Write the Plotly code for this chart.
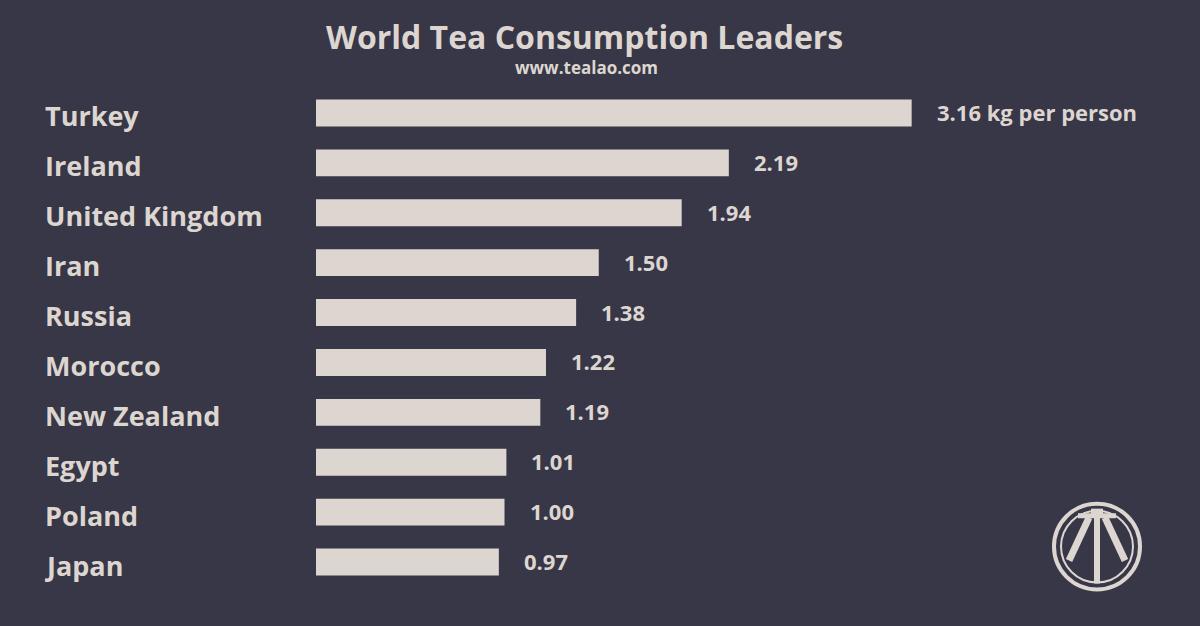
import plotly.graph_objects as go

countries = ["Turkey", "Ireland", "United Kingdom", "Iran", "Russia",
             "Morocco", "New Zealand", "Egypt", "Poland", "Japan"]
values = [3.16, 2.19, 1.94, 1.50, 1.38, 1.22, 1.19, 1.01, 1.00, 0.97]
value_labels = ["3.16 kg per person", "2.19", "1.94", "1.50", "1.38",
                "1.22", "1.19", "1.01", "1.00", "0.97"]
title_text = "World Tea Consumption Leaders"
subtitle_text = "www.tealao.com"

W, H = 1200, 626
BG = "#383747"
FG = "#DDD6D0"
FONT = "Open Sans"
L_PLOT = 316
T, B = 87.5, 38.5
PLOT_H = H - T - B
x_max = (W - L_PLOT) / 188.5

fig = go.Figure(go.Bar(
    x=values, y=countries, orientation="h",
    marker=dict(color=FG, line_width=0), width=0.54, hoverinfo="skip",
))

fig.update_layout(
    width=W, height=H, paper_bgcolor=BG, plot_bgcolor=BG,
    margin=dict(l=0, r=0, t=T, b=B, pad=0), showlegend=False,
    xaxis=dict(domain=[L_PLOT / W, 1], range=[0, x_max], visible=False, fixedrange=True),
    yaxis=dict(categoryorder="array", categoryarray=countries[::-1],
               range=[-0.5, len(countries) - 0.5], visible=False, fixedrange=True),
)

def px(x):
    return x / W

def py(y):
    return (H - B - y) / PLOT_H

ann = []
for c, v, lab in zip(countries, values, value_labels):
    ann.append(dict(x=px(43), xref="paper", y=c, yref="y", text=c, showarrow=False,
                    xanchor="left", yanchor="middle", yshift=-3,
                    font=dict(family=FONT, size=27, color=FG, weight="bold")))
    ann.append(dict(x=v, xref="x", y=c, yref="y", text=lab, showarrow=False,
                    xanchor="left", yanchor="middle", xshift=23, yshift=1,
                    font=dict(family=FONT, size=22, color=FG, weight="bold")))

ann.append(dict(x=px(584), xref="paper", y=py(36), yref="paper", text=title_text,
                showarrow=False, xanchor="center", yanchor="middle",
                font=dict(family=FONT, size=32, color=FG, weight="bold")))
ann.append(dict(x=px(586), xref="paper", y=py(67), yref="paper", text=subtitle_text,
                showarrow=False, xanchor="center", yanchor="middle",
                font=dict(family=FONT, size=17, color=FG, weight="bold")))
fig.update_layout(annotations=ann)

# logo
cx, cy = 1097, 547
shapes = []
def circle(r, w):
    return dict(type="circle", xref="paper", yref="paper",
                x0=px(cx - r), x1=px(cx + r), y0=py(cy + r), y1=py(cy - r),
                line=dict(color=FG, width=w), fillcolor="rgba(0,0,0,0)")
def line(x0, y0, x1, y1, w):
    return dict(type="line", xref="paper", yref="paper",
                x0=px(x0), y0=py(y0), x1=px(x1), y1=py(y1),
                line=dict(color=FG, width=w))
shapes.append(circle(43, 4))
shapes.append(circle(36, 2))
shapes.append(line(1078, 516, 1116, 516, 5))
shapes.append(dict(type="rect", xref="paper", yref="paper",
                   x0=px(1091), x1=px(1103), y0=py(516), y1=py(509),
                   line=dict(width=0), fillcolor=FG))
shapes.append(line(cx, 516, cx, 584, 6))
shapes.append(line(cx - 8, 518, cx - 28, 561, 7))
shapes.append(line(cx + 8, 518, cx + 28, 561, 7))
fig.update_layout(shapes=shapes)

fig.write_html("out.html")
